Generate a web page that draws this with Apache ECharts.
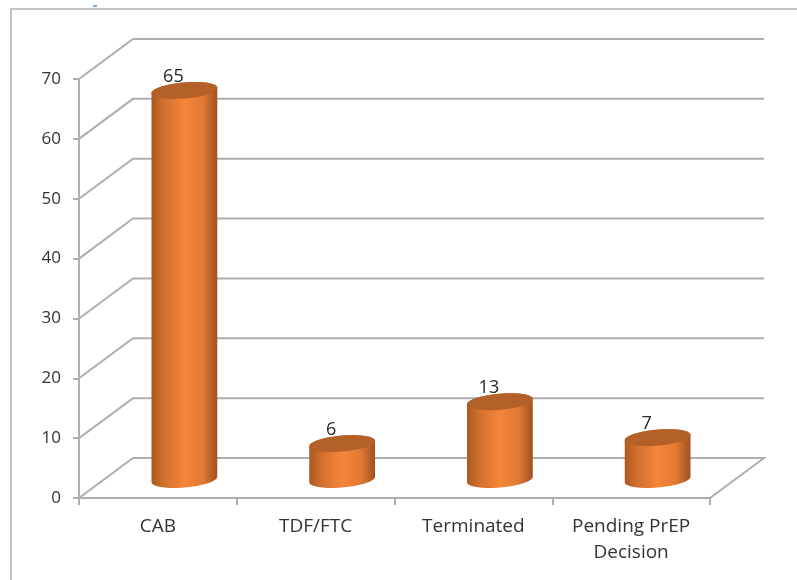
<!DOCTYPE html>
<html>
<head>
<meta charset="utf-8">
<style>html,body{margin:0;padding:0;background:#fff}#chart{width:797px;height:580px}</style>
<script src="https://cdn.jsdelivr.net/npm/echarts@6/dist/echarts.min.js"></script>
</head>
<body>
<div id="chart"></div>
<script>
// Regimen counts shown as 3D-style cylinders on a receding floor and wall.
const categories = ['CAB', 'TDF/FTC', 'Terminated', 'Pending PrEP\nDecision'];
const counts = [65, 6, 13, 7];
const gridTicks = [0, 10, 20, 30, 40, 50, 60, 70];

const depthX = 54, depthY = -40;       // how far the back wall recedes
const radiusX = 33, radiusY = 8, tilt = -5 * Math.PI / 180;
const lineGrey = '#aeaeae', textGrey = '#333333';

// Point on the tilted ellipse that forms a cylinder cap.
function capPoint(cx, cy, t) {
  const x = radiusX * Math.cos(t), y = radiusY * Math.sin(t);
  return [cx + x * Math.cos(tilt) - y * Math.sin(tilt),
          cy + x * Math.sin(tilt) + y * Math.cos(tilt)];
}
function capArc(cx, cy, from, to) {
  const pts = [];
  for (let i = 0; i <= 48; i++) pts.push(capPoint(cx, cy, from + (to - from) * i / 48));
  return pts;
}

function renderWall(params, api) {
  const band = api.size([1, 0])[0];
  const p = api.coord([0, api.value(0)]);
  const left = p[0] - band / 2, y = p[1];
  const right = left + band * categories.length;
  const pts = [[left, y], [left + depthX, y + depthY], [right + depthX, y + depthY]];
  if (api.value(0) === 0) pts.push([right, y]);
  return {
    type: 'polyline',
    shape: { points: pts },
    style: { stroke: lineGrey, lineWidth: 2, fill: null }
  };
}

function renderCylinder(params, api) {
  const base = api.coord([api.value(0), 0]);
  const top = api.coord([api.value(0), api.value(1)]);
  const cx = base[0] + depthX / 2 - 0.5;
  const by = base[1] + depthY / 2 + 1.5, ty = top[1] + depthY / 2 + 1.5;
  const t0 = Math.atan2(-radiusY * Math.sin(tilt), radiusX * Math.cos(tilt));
  const body = capArc(cx, by, t0, t0 + Math.PI).concat(capArc(cx, ty, t0 + Math.PI, t0 + 2 * Math.PI));
  return {
    type: 'group',
    children: [
      {
        type: 'polygon',
        shape: { points: body },
        style: {
          fill: new echarts.graphic.LinearGradient(0, 0, 1, 0, [
            { offset: 0, color: '#ad5820' },
            { offset: 0.18, color: '#d0702e' },
            { offset: 0.5, color: '#f58539' },
            { offset: 0.78, color: '#e27a33' },
            { offset: 1, color: '#a05120' }
          ])
        }
      },
      {
        type: 'polygon',
        shape: { points: capArc(cx, ty, 0, 2 * Math.PI) },
        style: { fill: '#b36029' }
      },
      {
        type: 'text',
        style: {
          x: cx - 11, y: ty - 14, text: String(api.value(1)),
          fill: '#262626', font: '18px "Open Sans"', align: 'center', verticalAlign: 'middle'
        }
      }
    ]
  };
}

const chart = echarts.init(document.getElementById('chart'), null, { renderer: 'canvas' });
chart.setOption({
  animation: false,
  backgroundColor: '#fff',
  grid: { left: 79, right: 87, top: 79, bottom: 82 },
  xAxis: {
    type: 'category',
    data: categories,
    axisLine: { lineStyle: { color: lineGrey, width: 2 } },
    axisTick: { show: true, length: 7, alignWithLabel: false, lineStyle: { color: lineGrey, width: 2 } },
    axisLabel: { color: textGrey, fontFamily: 'Open Sans', fontSize: 19, margin: 16, lineHeight: 26, interval: 0 }
  },
  yAxis: {
    type: 'value',
    min: 0,
    max: 70,
    interval: 10,
    axisLine: { show: true, lineStyle: { color: lineGrey, width: 2 } },
    axisTick: { show: true, length: 6, lineStyle: { color: lineGrey, width: 2 } },
    splitLine: { show: false },
    axisLabel: { color: textGrey, fontFamily: 'Open Sans', fontSize: 17, margin: 18 }
  },
  series: [
    { type: 'custom', renderItem: renderWall, data: gridTicks.map(v => [v]), encode: { y: 0 }, silent: true, z: 1 },
    { type: 'custom', renderItem: renderCylinder, data: counts.map((v, i) => [i, v]), encode: { x: 0, y: 1 }, silent: true, z: 2 }
  ],
  graphic: [
    { type: 'polyline', silent: true, shape: { points: [[11, 580], [11, 9], [797, 9]] }, style: { stroke: '#c4c4c4', lineWidth: 2, fill: null } },
    { type: 'rect', silent: true, shape: { x: 93, y: 5, width: 4, height: 2 }, style: { fill: '#7aa7dc' } }
  ]
});
</script>
</body>
</html>
